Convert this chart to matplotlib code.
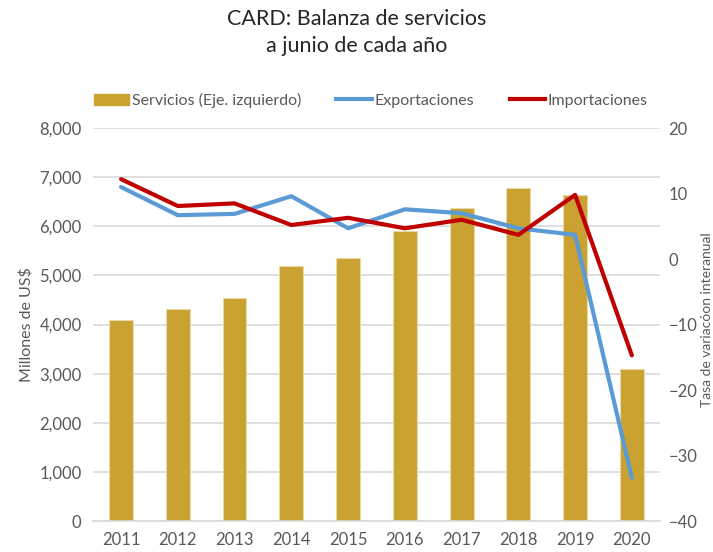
import matplotlib
matplotlib.use("Agg")
import matplotlib.pyplot as plt
import numpy as np
from matplotlib.patches import Patch
from matplotlib.lines import Line2D

years = ["2011", "2012", "2013", "2014", "2015", "2016", "2017", "2018", "2019", "2020"]
servicios = [4100, 4320, 4540, 5190, 5360, 5910, 6380, 6780, 6640, 3100]
exportaciones = [11.0, 6.7, 6.9, 9.6, 4.7, 7.6, 7.0, 4.7, 3.7, -33.4]
importaciones = [12.2, 8.1, 8.5, 5.2, 6.3, 4.7, 6.0, 3.7, 9.8, -14.7]

plt.rcParams['font.family'] = ['Lato', 'DejaVu Sans']
gray = '#595959'
bar_c = '#C9A232'
blue = '#5B9BD5'
red = '#C00000'

fig = plt.figure(figsize=(7.13, 5.52), dpi=100)
ax = fig.add_axes([0.130, 0.056, 0.796, 0.712])
x = np.arange(len(years))
ax.bar(x, servicios, width=0.42, color=bar_c, edgecolor='#E8D9A8', linewidth=0.8, zorder=2)
ax.set_ylim(0, 8000)
ax.set_yticks(np.arange(0, 8001, 1000))
ax.set_yticklabels([f"{v:,}" for v in range(0, 8001, 1000)])
ax.set_xlim(-0.5, len(years) - 0.5)
ax.set_xticks(x)
ax.set_xticklabels(years)
ax.grid(axis='y', color='#D9D9D9', linewidth=1.2, zorder=0)
ax.set_axisbelow(True)
for s in ['top', 'right', 'left']:
    ax.spines[s].set_visible(False)
ax.spines['bottom'].set_color('#D9D9D9')
ax.spines['bottom'].set_linewidth(1.2)
ax.tick_params(axis='both', length=0, labelsize=12, colors=gray, pad=8)
ax.set_ylabel("Millones de US$", fontsize=11.5, color=gray, labelpad=4)

ax2 = ax.twinx()
ax2.plot(x, exportaciones, color=blue, linewidth=3, zorder=3, solid_capstyle='round')
ax2.plot(x, importaciones, color=red, linewidth=3, zorder=4, solid_capstyle='round')
ax2.set_ylim(-40, 20)
ax2.set_yticks(np.arange(-40, 21, 10))
for s in ['top', 'right', 'left', 'bottom']:
    ax2.spines[s].set_visible(False)
ax2.tick_params(axis='y', length=0, labelsize=12, colors=gray, pad=6)
fig.text(0.991, 0.42, "Tasa de variacóon interanual", rotation=90, fontsize=10,
         color=gray, ha='center', va='center')

fig.text(0.5, 0.966, "CARD: Balanza de servicios", fontsize=15.5, color='#262626', ha='center', va='center')
fig.text(0.5, 0.917, "a junio de cada año", fontsize=15.5, color='#262626', ha='center', va='center')

handles = [Patch(facecolor=bar_c, edgecolor=bar_c),
           Line2D([0], [0], color=blue, linewidth=3),
           Line2D([0], [0], color=red, linewidth=3)]
labels = ["Servicios (Eje. izquierdo)", "Exportaciones", "Importaciones"]
fig.legend(handles, labels, loc='center', bbox_to_anchor=(0.52, 0.818), ncol=3, frameon=False,
           fontsize=11.5, labelcolor=gray, handlelength=2.2, handletextpad=0.2, columnspacing=2.2)

fig.savefig("out.png", dpi=100)
